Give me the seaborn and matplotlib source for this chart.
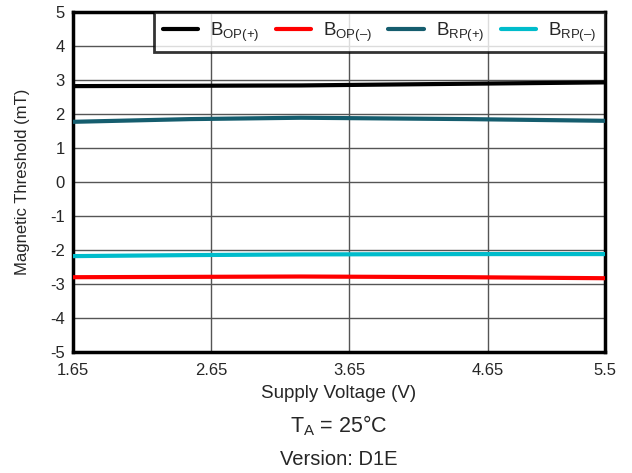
import matplotlib
matplotlib.use("Agg")
import matplotlib.pyplot as plt
import pandas as pd
import seaborn as sns

# Supply voltage sweep (V)
voltage = [1.65, 2.5, 3.3, 4.5, 5.5]

# Magnetic thresholds (mT)
bop_pos = [2.82, 2.83, 2.84, 2.89, 2.93]
bop_neg = [-2.80, -2.79, -2.78, -2.80, -2.83]
brp_pos = [1.77, 1.85, 1.89, 1.85, 1.80]
brp_neg = [-2.18, -2.15, -2.13, -2.12, -2.12]

series_labels = [r"B$_{\mathregular{OP(+)}}$", r"B$_{\mathregular{OP(–)}}$",
                 r"B$_{\mathregular{RP(+)}}$", r"B$_{\mathregular{RP(–)}}$"]
series_colors = ["#000000", "#ff0000", "#155d6e", "#00bccb"]

x_ticks = [1.65, 2.65, 3.65, 4.65, 5.5]
x_tick_labels = ["1.65", "2.65", "3.65", "4.65", "5.5"]
y_ticks = [-5, -4, -3, -2, -1, 0, 1, 2, 3, 4, 5]

sns.set_style("white")
plt.rcParams["font.family"] = ["Liberation Sans", "DejaVu Sans"]
plt.rcParams["mathtext.fontset"] = "custom"
plt.rcParams["mathtext.rm"] = "Liberation Sans"
plt.rcParams["axes.unicode_minus"] = False

rows = []
for label, vals in zip(series_labels, [bop_pos, bop_neg, brp_pos, brp_neg]):
    for v, b in zip(voltage, vals):
        rows.append({"Voltage": v, "Threshold": b, "Series": label})
df = pd.DataFrame(rows)

fig = plt.figure(figsize=(6.32, 4.73), dpi=100)
ax = fig.add_axes([73 / 632, 1 - 352 / 473, (605 - 73) / 632, (352 - 12) / 473])

sns.lineplot(data=df, x="Voltage", y="Threshold", hue="Series",
             hue_order=series_labels, palette=series_colors,
             linewidth=3, ax=ax, legend=True, zorder=3)

ax.set_xlim(1.65, 5.5)
ax.set_ylim(-5, 5)
ax.set_xticks(x_ticks)
ax.set_xticklabels(x_tick_labels)
ax.set_yticks(y_ticks)
ax.tick_params(axis="both", labelsize=12, length=0)
ax.tick_params(axis="x", pad=8)
ax.tick_params(axis="y", pad=6)
ax.grid(True, color="#555555", linewidth=1)
for sp in ax.spines.values():
    sp.set_visible(True)
    sp.set_color("black")
    sp.set_linewidth(2.5)
ax.set_xlabel("")
ax.set_ylabel("Magnetic Threshold (mT)", fontsize=12)
ax.yaxis.set_label_coords(-0.08, 0.5)

leg = ax.legend(loc="upper right", ncol=4, fontsize=13.5, frameon=True,
                fancybox=False, handlelength=1.9, handletextpad=0.65,
                columnspacing=0.85, borderpad=0.45, borderaxespad=0)
leg.get_frame().set_edgecolor("black")
leg.get_frame().set_linewidth(2)
for line in leg.get_lines():
    line.set_linewidth(3)

cx = (73 + 605) / 2 / 632
fig.text(cx, 1 - 393 / 473, "Supply Voltage (V)",
         ha="center", va="center", fontsize=13.5)
fig.text(cx, 1 - 426 / 473, r"T$_{\mathregular{A}}$ = 25°C",
         ha="center", va="center", fontsize=15.5)
fig.text(cx, 1 - 459 / 473, "Version: D1E",
         ha="center", va="center", fontsize=14.5)

fig.savefig("out.png", dpi=100)
